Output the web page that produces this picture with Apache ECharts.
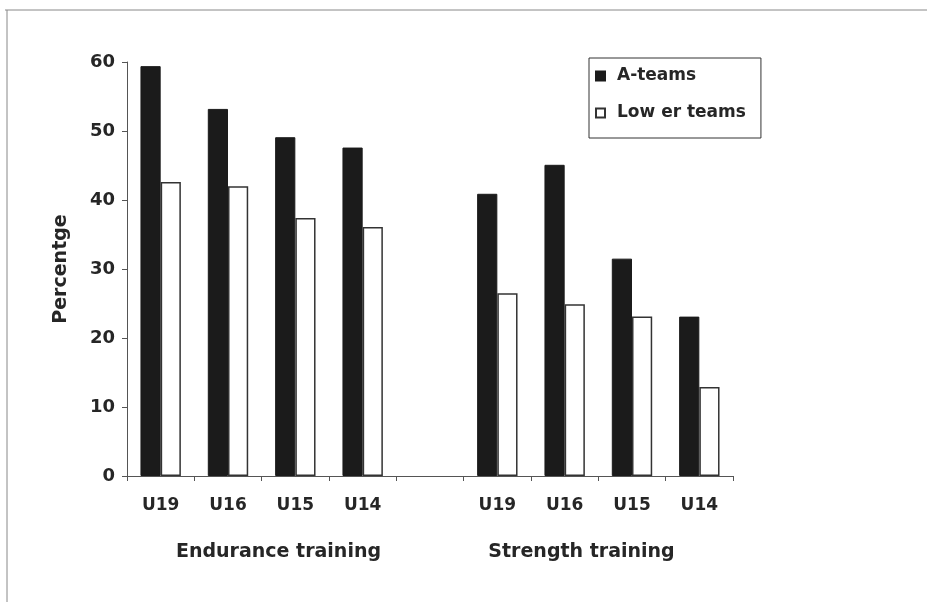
<!DOCTYPE html>
<html>
<head>
<meta charset="utf-8">
<script src="https://cdn.jsdelivr.net/npm/echarts@6/dist/echarts.min.js"></script>
<style>
  html, body { margin: 0; padding: 0; background: #fff; }
  #chart { width: 927px; height: 602px; }
</style>
</head>
<body>
<div id="chart"></div>
<script>
// categories (empty slot separates the two groups)
const categories = ["U19", "U16", "U15", "U14", "", "U19", "U16", "U15", "U14"];
const groups = ["Endurance training", "Strength training"];
// percentages
const aTeams = [59.4, 53.2, 49.1, 47.6, "-", 40.9, 45.1, 31.5, 23.1];
const lowerTeams = [42.6, 42.0, 37.4, 36.1, "-", 26.5, 24.9, 23.1, 12.9];
const yTicks = [0, 10, 20, 30, 40, 50, 60];

const myChart = echarts.init(document.getElementById("chart"));
const font = "DejaVu Sans, Arial, sans-serif";
const textColor = "#262626";

const option = {
  backgroundColor: "#fff",
  animation: false,
  grid: { left: 127, right: 194, top: 62, bottom: 126 },
  legend: {
    orient: "vertical",
    left: 589,
    top: 58,
    padding: [8, 15, 15, 6],
    itemGap: 17,
    itemWidth: 9,
    itemHeight: 9,
    icon: "rect",
    borderColor: "#333",
    borderWidth: 1,
    textStyle: {
      fontFamily: font,
      fontSize: 17,
      fontWeight: "bold",
      color: textColor,
      lineHeight: 20,
      padding: [0, 0, 0, 7],
    },
    data: ["A-teams", "Low er teams"],
  },
  xAxis: [
    {
      type: "category",
      data: categories,
      axisLine: { show: true, lineStyle: { color: "#555", width: 1 } },
      axisTick: { show: true, length: 5, lineStyle: { color: "#555" } },
      axisLabel: { fontFamily: font, fontSize: 17, fontWeight: "bold", color: textColor, margin: 21 },
    },
    {
      type: "category",
      position: "bottom",
      offset: 63,
      data: groups,
      axisLine: { show: false },
      axisTick: { show: false },
      axisLabel: { fontFamily: font, fontSize: 19, fontWeight: "bold", color: textColor, margin: 4 },
    },
  ],
  yAxis: {
    type: "value",
    min: yTicks[0],
    max: yTicks[yTicks.length - 1],
    interval: 10,
    name: "Percentge",
    nameLocation: "middle",
    nameGap: 56,
    nameTextStyle: { fontFamily: font, fontSize: 19, fontWeight: "bold", color: textColor },
    axisLine: { show: true, lineStyle: { color: "#555", width: 1 } },
    axisTick: { show: true, length: 5, lineStyle: { color: "#555" } },
    axisLabel: { fontFamily: font, fontSize: 18, fontWeight: "bold", color: textColor, margin: 12 },
    splitLine: { show: false },
  },
  series: [
    {
      name: "A-teams",
      type: "bar",
      data: aTeams,
      barGap: "0%",
      barCategoryGap: "40%",
      itemStyle: { color: "#1b1b1b", borderColor: "#1b1b1b", borderWidth: 1 },
    },
    {
      name: "Low er teams",
      type: "bar",
      data: lowerTeams,
      itemStyle: { color: "#fff", borderColor: "#333", borderWidth: 1.5 },
    },
  ],
  graphic: [
    { type: "line", shape: { x1: 5, y1: 10, x2: 927, y2: 10 }, style: { stroke: "#888", lineWidth: 1 } },
    { type: "line", shape: { x1: 7, y1: 10, x2: 7, y2: 602 }, style: { stroke: "#888", lineWidth: 1 } },
  ],
};

myChart.setOption(option);
window.addEventListener("resize", () => myChart.resize());
</script>
</body>
</html>
